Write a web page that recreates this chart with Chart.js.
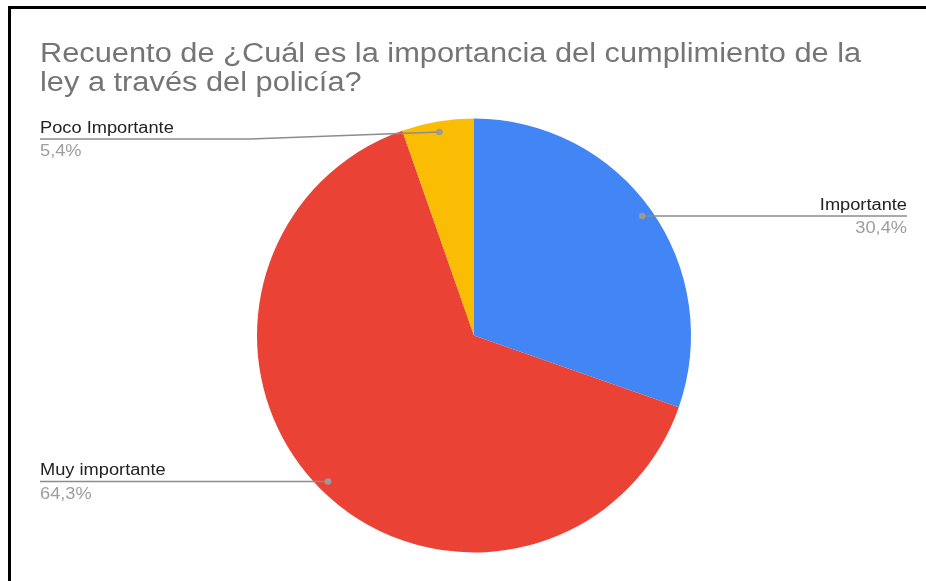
<!DOCTYPE html>
<html>
<head>
<meta charset="utf-8">
<script src="https://cdn.jsdelivr.net/npm/chart.js@4"></script>
<style>
  html, body { margin: 0; padding: 0; background: #ffffff; }
  #wrap { width: 926px; height: 581px; position: relative; }
</style>
</head>
<body>
<div id="wrap"><canvas id="c" width="926" height="581"></canvas></div>
<script>
// ---- data ----
const titleLines = ['Recuento de ¿Cuál es la importancia del cumplimiento de la', 'ley a través del policía?'];
const categories = ['Importante', 'Muy importante', 'Poco Importante'];
const counts = [17, 36, 3];
const sliceColors = ['#4285F4', '#EA4335', '#FBBC04'];

// ---- presentation ----
const FONT = '"Liberation Sans", Arial, sans-serif';
const SX = 1.14; // horizontal text stretch seen in the reference
const labelLayout = [
  { side: 'right', edge: 907, dy: 0 },
  { side: 'left', edge: 40, dy: 0 },
  { side: 'left', edge: 40, dy: 7, elbow: 250 }
];

function stretchedText(ctx, text, x, y, align) {
  ctx.save();
  ctx.translate(x, y);
  ctx.scale(SX, 1);
  ctx.textAlign = align;
  ctx.textBaseline = 'alphabetic';
  ctx.fillText(text, 0, 0);
  ctx.restore();
}

const decorPlugin = {
  id: 'decor',
  beforeDraw(chart) {
    const ctx = chart.ctx;
    ctx.save();
    ctx.fillStyle = '#ffffff';
    ctx.fillRect(0, 0, chart.width, chart.height);
    ctx.restore();
  },
  afterDraw(chart) {
    const ctx = chart.ctx;
    // frame
    ctx.save();
    ctx.fillStyle = '#000000';
    ctx.fillRect(8, 6, chart.width - 8, 3);
    ctx.fillRect(8, 6, 3, chart.height - 6);
    // title
    ctx.fillStyle = '#757575';
    ctx.font = '27px ' + FONT;
    stretchedText(ctx, titleLines[0], 40, 62, 'left');
    stretchedText(ctx, titleLines[1], 40, 91, 'left');
    ctx.restore();

    // leader labels
    const meta = chart.getDatasetMeta(0);
    const total = counts.reduce((a, b) => a + b, 0);
    meta.data.forEach((arc, i) => {
      const p = arc.getProps(['x', 'y', 'startAngle', 'endAngle', 'outerRadius'], true);
      const mid = (p.startAngle + p.endAngle) / 2;
      const r = p.outerRadius - 10.6;
      const dx = p.x + Math.cos(mid) * r;
      const dy = p.y + Math.sin(mid) * r;
      const lay = labelLayout[i];
      const ly = dy + lay.dy;
      ctx.save();
      ctx.strokeStyle = '#8c8c8c';
      ctx.lineWidth = 1.6;
      ctx.beginPath();
      ctx.moveTo(lay.edge, ly);
      if (lay.elbow !== undefined) ctx.lineTo(lay.elbow, ly);
      ctx.lineTo(dx, dy);
      ctx.stroke();
      ctx.fillStyle = '#9a9a9a';
      ctx.beginPath();
      ctx.arc(dx, dy, 3.3, 0, Math.PI * 2);
      ctx.fill();
      const align = lay.side === 'right' ? 'right' : 'left';
      ctx.font = '16px ' + FONT;
      ctx.fillStyle = '#222222';
      stretchedText(ctx, categories[i], lay.edge, ly - 6.3, align);
      ctx.fillStyle = '#9e9e9e';
      const pct = (counts[i] / total * 100).toFixed(1).replace('.', ',') + '%';
      stretchedText(ctx, pct, lay.edge, ly + 17.2, align);
      ctx.restore();
    });
  }
};

new Chart(document.getElementById('c'), {
  type: 'pie',
  data: {
    labels: categories,
    datasets: [{
      data: counts,
      backgroundColor: sliceColors,
      borderWidth: 0
    }]
  },
  options: {
    responsive: false,
    animation: false,
    layout: { padding: { left: 257, right: 235, top: 118.5, bottom: 28.5 } },
    plugins: {
      legend: { display: false },
      tooltip: { enabled: false },
      title: { display: false }
    }
  },
  plugins: [decorPlugin]
});
</script>
</body>
</html>
